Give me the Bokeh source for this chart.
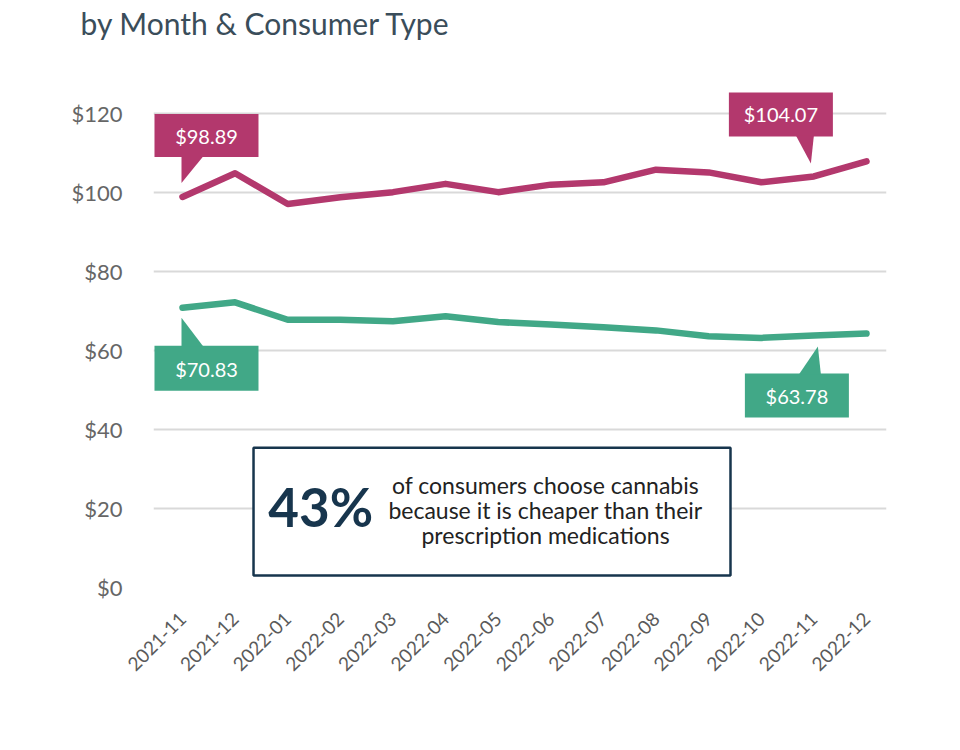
import math
from bokeh.plotting import figure
from bokeh.models import Range1d, FixedTicker, Label, BoxAnnotation, Title
from bokeh.core.properties import value
from bokeh.embed import file_html
from bokeh.resources import INLINE

# ---------------- data ----------------
months = ["2021-11", "2021-12", "2022-01", "2022-02", "2022-03", "2022-04", "2022-05",
          "2022-06", "2022-07", "2022-08", "2022-09", "2022-10", "2022-11", "2022-12"]
medical = [98.89, 104.9, 97.1, 98.8, 100.1, 102.2, 100.1, 102.0, 102.6, 105.8, 105.1, 102.6, 104.07, 107.9]
adult = [70.83, 72.2, 67.8, 67.8, 67.4, 68.7, 67.2, 66.6, 65.9, 65.1, 63.6, 63.2, 63.78, 64.3]
y_ticks = [0, 20, 40, 60, 80, 100, 120]
y_tick_labels = ["$0", "$20", "$40", "$60", "$80", "$100", "$120"]

PINK = "#b3386d"
TEAL = "#41a887"
NAVY = "#17354d"

# ---------------- layout ----------------
W, H = 952, 742
BL, BR, BT, BB = 153, 66, 40, 155
X0, X1 = -0.551, 13.38
Y0, Y1 = 0, 138.5
FW = W - BL - BR
FH = H - BT - BB
SX = FW / (X1 - X0)   # px per month
SY = FH / (Y1 - Y0)   # px per dollar

p = figure(width=W, height=H, output_backend="svg", toolbar_location=None,
           x_range=Range1d(X0, X1), y_range=Range1d(Y0, Y1),
           min_border_left=BL, min_border_right=BR, min_border_top=BT, min_border_bottom=BB)
p.outline_line_color = None
p.background_fill_color = "white"
p.border_fill_color = "white"

p.title = Title(text="by Month & Consumer Type", text_font="Lato", text_font_size="30px",
                text_font_style="normal", text_color="#3a4d5a", align="left",
                offset=-73, standoff=0)

xs = list(range(len(months)))

# axes
p.xaxis.ticker = FixedTicker(ticks=xs)
p.xaxis.major_label_overrides = {i: m for i, m in enumerate(months)}
p.xaxis.major_label_orientation = math.pi / 4
p.xaxis.major_label_text_font = "Lato"
p.xaxis.major_label_text_font_size = "19px"
p.xaxis.major_label_text_color = "#5a5a5a"
p.xaxis.major_label_standoff = 22
p.xaxis.axis_line_color = None
p.xaxis.major_tick_line_color = None
p.xaxis.minor_tick_line_color = None

p.yaxis.ticker = FixedTicker(ticks=y_ticks)
p.yaxis.major_label_overrides = {t: l for t, l in zip(y_ticks, y_tick_labels)}
p.yaxis.major_label_text_font = "Lato"
p.yaxis.major_label_text_font_size = "22px"
p.yaxis.major_label_text_color = "#666666"
p.yaxis.major_label_standoff = 25
p.yaxis.axis_line_color = None
p.yaxis.major_tick_line_color = None
p.yaxis.minor_tick_line_color = None

p.xgrid.grid_line_color = None
p.ygrid.grid_line_color = "#d9d9d9"
p.ygrid.grid_line_width = 2

# lines
p.line(xs, medical, line_color=PINK, line_width=6.5, line_join="round", line_cap="round")
p.line(xs, adult, line_color=TEAL, line_width=6.5, line_join="round", line_cap="round")


def callout(idx, val, box, tri, txt, label, color):
    """box=(dx0,dx1,dy0,dy1) px offsets from point (dy down), tri=list of px offsets."""
    def cx(dx):
        return idx + dx / SX

    def cy(dy):
        return val - dy / SY
    dx0, dx1, dy0, dy1 = box
    p.quad(left=cx(dx0), right=cx(dx1), top=cy(dy0), bottom=cy(dy1),
           fill_color=color, line_color=None)
    p.patch([cx(a) for a, b in tri], [cy(b) for a, b in tri], fill_color=color, line_color=None)
    p.text(x=[cx(txt[0])], y=[cy(txt[1])], text=[label], text_color="white",
           text_font=value("Lato"), text_font_size="20px",
           text_align="center", text_baseline="middle")


callout(0, medical[0], (-28, 76, -83, -40), [(-1, -41), (21, -41), (-1, -14)], (24, -61), "$98.89", PINK)
callout(12, medical[12], (-85, 19, -84, -40), [(-18, -41), (0, -41), (-3, -13)], (-33, -62), "$104.07", PINK)
callout(0, adult[0], (-28, 76, 38, 83), [(-1, 39), (21, 39), (-1, 10)], (24, 61), "$70.83", TEAL)
callout(12, adult[12], (-69, 35, 38, 82), [(-15, 39), (7, 39), (4, 11)], (-17, 60), "$63.78", TEAL)

# info box
p.add_layout(BoxAnnotation(left=1.35, right=10.415, bottom=3.04, top=35.4,
                           fill_color="white", fill_alpha=1.0,
                           line_color=NAVY, line_alpha=1.0, line_width=2.5, level="overlay"))
p.add_layout(Label(x=1.63, y=20.4, text="43%", text_font="Lato", text_font_style="bold",
                   text_font_size="53px", text_color=NAVY, text_baseline="middle",
                   text_align="left", level="overlay"))
for line_txt, yy in [("of consumers choose cannabis", 25.9),
                     ("because it is cheaper than their", 19.6),
                     ("prescription medications", 13.3)]:
    p.add_layout(Label(x=6.9, y=yy, text=line_txt, text_font="Lato", text_font_size="23px",
                       text_color="#222222", text_baseline="middle", text_align="center",
                       level="overlay"))

open("out.html", "w").write(file_html(p, INLINE))
